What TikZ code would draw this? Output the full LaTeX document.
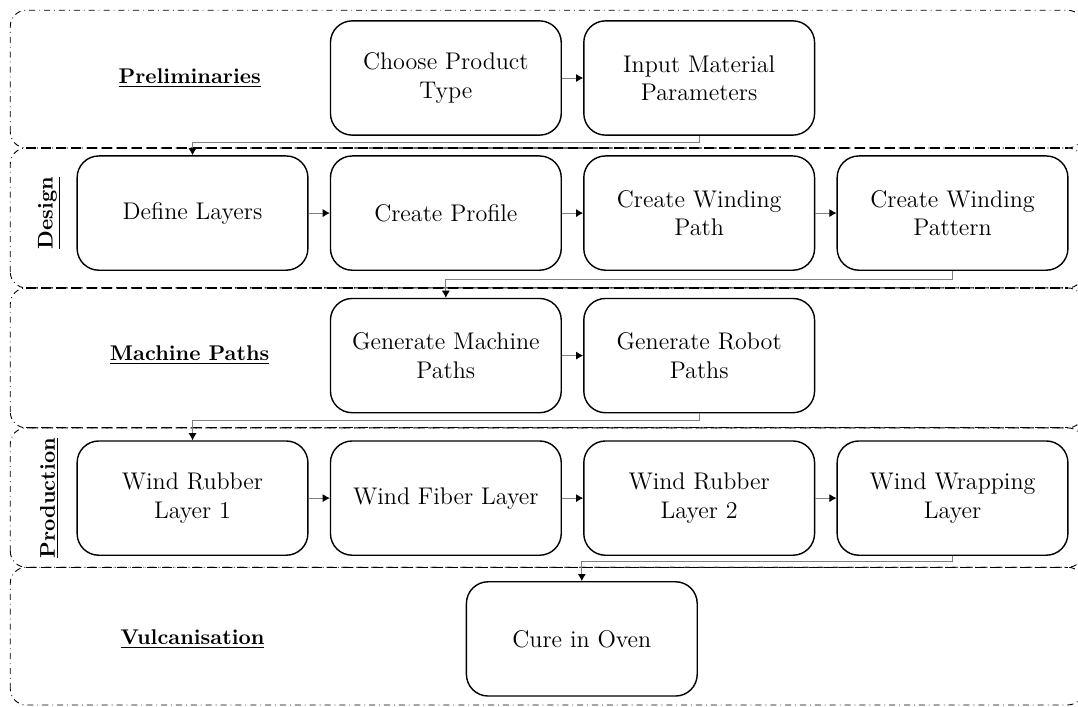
\documentclass[tikz,border=0pt]{standalone}
\usepackage{tikz}
\usetikzlibrary{positioning,arrows.meta,calc}
\tikzstyle{process} = [rectangle, draw, rounded corners=0.38cm, minimum width=4.04cm, minimum height=2cm, align=center, font=\large, line width=0.7pt]
\tikzstyle{lane} = [draw, dash dot, rounded corners=0.28cm, line width=0.45pt]
\tikzstyle{divider} = [dash pattern=on 5pt off 2.5pt, line width=0.6pt]
\tikzstyle{lanelabel} = [font=\fontsize{10.6}{13}\selectfont\bfseries]
\tikzstyle{flow} = [draw=gray, line width=0.4pt, -{Latex[black, length=3.5pt, width=4pt]}]

\begin{document}
\begin{tikzpicture}[node distance=0.37cm]
    \useasboundingbox (-3.37,-8.63) rectangle (15.5,3.73);
    \clip (-3.37,-8.63) rectangle (15.5,3.73);

    % swimlanes
    \draw[lane] (-3.19,1.14) rectangle (15.6,3.55);
    \draw[lane] (-3.19,-1.31) rectangle (15.6,1.14);
    \draw[lane] (-3.19,-3.76) rectangle (15.6,-1.31);
    \draw[lane] (-3.19,-6.2) rectangle (15.6,-3.76);
    \draw[lane] (-3.19,-8.61) rectangle (15.6,-6.2);
    \draw[divider] (-2.91,1.14) -- (15.32,1.14);
    \draw[divider] (-2.91,-1.31) -- (15.32,-1.31);
    \draw[divider] (-2.91,-3.76) -- (15.32,-3.76);
    \draw[divider] (-2.91,-6.2) -- (15.32,-6.2);

    % design
    \node[process] (dl) at (0,0) {Define Layers};
    \node[process, right=of dl] (cp) {Create Profile};
    \node[process, right=of cp] (cwpath) {Create Winding\\Path};
    \node[process, right=of cwpath] (cwpat) {Create Winding\\Pattern};

    % preliminaries
    \node[process, above=0.34cm of cp] (cpt) {Choose Product\\Type};
    \node[process, right=of cpt] (imp) {Input Material\\Parameters};

    % machine paths
    \node[process, below=0.47cm of cp] (gmp) {Generate Machine\\Paths};
    \node[process, right=of gmp] (grp) {Generate Robot\\Paths};

    % production
    \node[process, below=0.47cm of gmp] (wf) {Wind Fiber Layer};
    \node[process, left=of wf] (wr1) {Wind Rubber\\Layer 1};
    \node[process, right=of wf] (wr2) {Wind Rubber\\Layer 2};
    \node[process, right=of wr2] (ww) {Wind Wrapping\\Layer};

    % vulcanisation
    \node[process, below=0.44cm of wf, xshift=2.38cm] (cio) {Cure in Oven};

    % lane titles
    \node[lanelabel, xshift=-0.05cm] at (dl |- cpt) {\underline{Preliminaries}};
    \node[lanelabel, rotate=90] at ([xshift=-0.47cm]dl.west) {\underline{Design}};
    \node[lanelabel, xshift=-0.05cm] at (dl |- gmp) {\underline{Machine Paths}};
    \node[lanelabel, rotate=90] at ([xshift=-0.47cm]wr1.west) {\underline{Production}};
    \node[lanelabel] at (dl |- cio) {\underline{Vulcanisation}};

    % flow
    \draw[flow] (cpt) -- (imp);
    \draw[flow] (imp.south) -- ++(0,-0.12) -| (dl.north);
    \draw[flow] (dl) -- (cp);
    \draw[flow] (cp) -- (cwpath);
    \draw[flow] (cwpath) -- (cwpat);
    \draw[flow] (cwpat.south) -- ++(0,-0.14) -| (gmp.north);
    \draw[flow] (gmp) -- (grp);
    \draw[flow] (grp.south) -- ++(0,-0.12) -| (wr1.north);
    \draw[flow] (wr1) -- (wf);
    \draw[flow] (wf) -- (wr2);
    \draw[flow] (wr2) -- (ww);
    \draw[flow] (ww.south) -- ++(0,-0.1) -| (cio.north);
\end{tikzpicture}
\end{document}
